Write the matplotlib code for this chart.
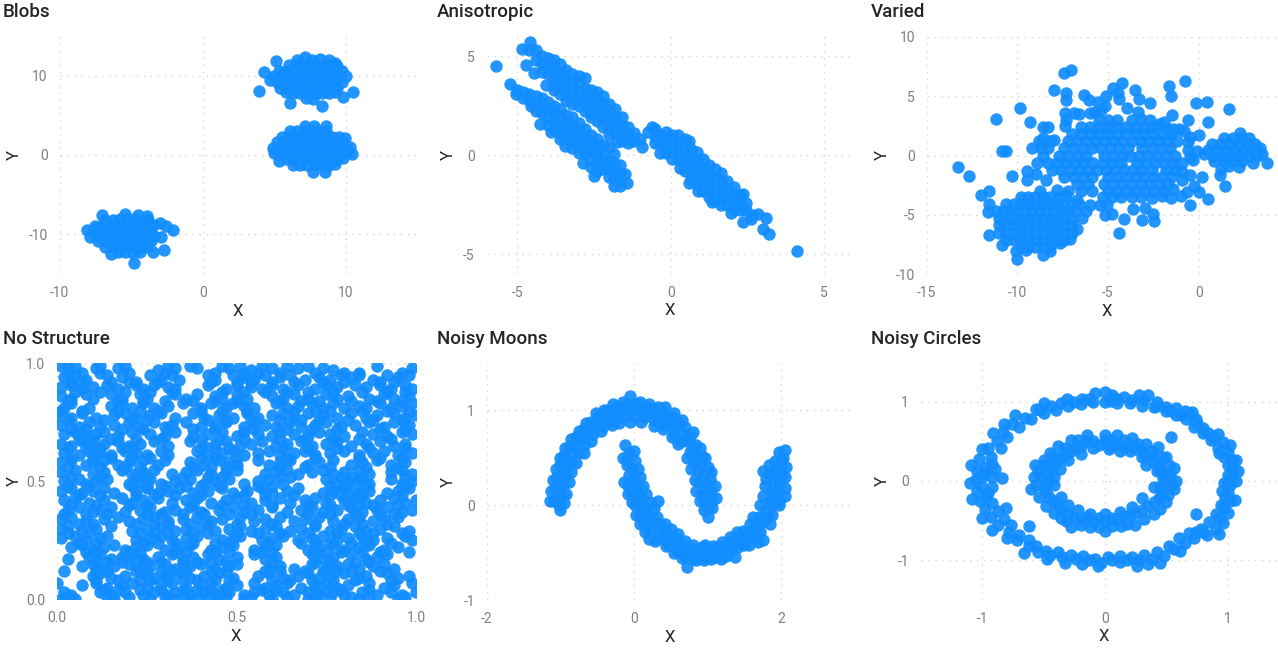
import matplotlib
matplotlib.use("Agg")

import matplotlib.pyplot as plt

BLUE = "#118DFF"
DARK = "#252423"
GREY = "#7F7F7F"
GRID = "#D4D4D4"

W, H = 1278, 648

blobs_pts = [
    (3.9,8.1),(4.3,10.5),(5.1,11.9),(6.1,6.5),(8.3,6.2),(9.8,7.3),(10.5,7.9),(4.7,9.4),(7.1,12.4),
    (6.6,12.0),(7.6,12.0),(8.2,12.1),(8.8,12.0),(9.2,11.6),
    (6.0,11.3),(6.5,11.3),(7.0,11.3),(7.5,11.3),(8.0,11.3),(8.5,11.3),(9.0,11.3),(9.4,11.2),
    (5.3,10.6),(5.8,10.6),(6.3,10.6),(6.8,10.6),(7.3,10.6),(7.8,10.6),(8.3,10.6),(8.8,10.6),(9.3,10.6),(9.7,10.6),
    (5.0,9.9),(5.5,9.9),(6.0,9.9),(6.5,9.9),(7.0,9.9),(7.5,9.9),(8.0,9.9),(8.5,9.9),(9.0,9.9),(9.5,9.9),(10.0,10.0),
    (5.2,9.2),(5.7,9.2),(6.2,9.2),(6.7,9.2),(7.2,9.2),(7.7,9.2),(8.2,9.2),(8.7,9.2),(9.2,9.2),(9.7,9.2),
    (5.4,8.5),(5.9,8.5),(6.4,8.5),(6.9,8.5),(7.4,8.5),(7.9,8.5),(8.4,8.5),(8.9,8.5),(9.4,8.5),
    (5.8,7.9),(6.3,7.8),(6.8,7.8),(7.3,7.8),(7.8,7.8),(8.3,7.8),(8.8,7.8),(9.2,7.9),(7.2,7.2),(7.7,7.1),
    (8.6,3.6),(7.1,3.7),(7.75,3.6),(6.1,3.0),(6.6,3.0),(7.1,3.0),(7.6,3.0),(8.1,3.0),(8.6,3.0),
    (5.5,2.3),(6.0,2.3),(6.5,2.3),(7.0,2.3),(7.5,2.3),(8.0,2.3),(8.5,2.3),(9.0,2.3),(9.5,2.3),(9.9,2.2),
    (5.2,1.6),(5.7,1.6),(6.2,1.6),(6.7,1.6),(7.2,1.6),(7.7,1.6),(8.2,1.6),(8.7,1.6),(9.2,1.6),(9.7,1.6),
    (4.9,0.9),(5.4,0.9),(5.9,0.9),(6.4,0.9),(6.9,0.9),(7.4,0.9),(7.9,0.9),(8.4,0.9),(8.9,0.9),(9.4,0.9),(9.9,0.9),(10.3,1.0),
    (5.0,0.2),(5.5,0.2),(6.0,0.2),(6.5,0.2),(7.0,0.2),(7.5,0.2),(8.0,0.2),(8.5,0.2),(9.0,0.2),(9.5,0.2),(10.0,0.2),(10.4,0.1),
    (5.3,-0.7),(5.8,-0.5),(6.3,-0.5),(6.8,-0.5),(7.3,-0.5),(7.8,-0.5),(8.3,-0.5),(8.8,-0.5),(9.3,-0.5),(9.8,-0.4),
    (6.3,-1.2),(6.8,-1.2),(7.3,-1.2),(7.8,-1.2),(8.3,-1.2),(8.8,-1.2),(9.2,-1.1),(7.7,-2.1),(8.5,-2.1),
    (-7.0,-7.5),(-5.4,-7.4),(-4.5,-7.6),(-3.9,-7.7),
    (-6.8,-8.2),(-6.3,-8.2),(-5.8,-8.1),(-5.3,-8.1),(-4.8,-8.1),(-4.3,-8.2),(-3.8,-8.2),
    (-7.5,-8.9),(-7.0,-8.9),(-6.5,-8.9),(-6.0,-8.9),(-5.5,-8.9),(-5.0,-8.9),(-4.5,-8.9),(-4.0,-8.9),(-3.5,-8.8),(-3.0,-8.6),(-2.6,-8.9),
    (-8.1,-9.5),(-7.6,-9.5),(-7.1,-9.5),(-6.6,-9.5),(-6.1,-9.5),(-5.6,-9.5),(-5.1,-9.5),(-4.6,-9.5),(-4.1,-9.5),(-3.6,-9.5),(-2.1,-9.4),
    (-7.9,-10.3),(-7.4,-10.2),(-6.9,-10.2),(-6.4,-10.2),(-5.9,-10.2),(-5.4,-10.2),(-4.9,-10.2),(-4.4,-10.2),(-3.9,-10.2),(-3.4,-10.2),(-2.9,-10.3),
    (-7.3,-10.9),(-6.8,-10.9),(-6.3,-10.9),(-5.8,-10.9),(-5.3,-10.9),(-4.8,-10.9),(-4.3,-10.9),(-3.6,-10.9),
    (-6.8,-11.6),(-6.3,-11.6),(-5.8,-11.6),(-5.3,-11.6),(-4.8,-11.6),(-4.3,-11.6),(-3.8,-11.6),
    (-6.4,-12.5),(-5.9,-12.2),(-5.4,-12.2),(-4.9,-12.3),(-4.4,-12.2),(-3.5,-12.2),(-2.7,-12.0),(-4.8,-13.6),
]

aniso_pts = [
    (-5.7,4.5),(-4.7,4.55),(-4.85,5.34),(-4.58,5.72),(-4.6,5.3),
    (-4.4,5.3),(-4.4,4.8),(-4.45,4.15),(-4.2,5.0),(-4.2,4.6),(-4.2,4.2),
    (-4.0,4.9),(-4.0,4.5),(-4.0,4.1),(-4.05,3.55),(-3.8,4.8),(-3.8,4.4),(-3.8,4.0),(-3.8,3.6),(-3.8,3.3),
    (-3.6,4.6),(-3.6,4.2),(-3.6,3.8),(-3.6,3.4),(-3.6,3.1),(-3.4,4.3),(-3.4,3.9),(-3.4,3.5),(-3.4,3.1),(-3.4,2.8),
    (-3.2,4.1),(-3.2,3.7),(-3.2,3.3),(-3.2,2.9),(-3.2,2.6),(-3.0,4.0),(-3.0,3.6),(-3.0,3.2),(-3.0,2.8),(-3.0,2.45),
    (-2.8,3.9),(-2.8,3.4),(-2.8,3.0),(-2.8,2.6),(-2.8,2.2),(-2.6,3.3),(-2.6,2.9),(-2.6,2.5),(-2.6,2.1),(-2.6,1.9),
    (-2.4,3.2),(-2.4,2.8),(-2.4,2.4),(-2.4,2.0),(-2.4,1.7),(-2.2,3.0),(-2.2,2.6),(-2.2,2.2),(-2.2,1.8),(-2.2,1.4),
    (-2.0,2.6),(-2.0,2.2),(-2.0,1.8),(-2.0,1.4),(-2.0,1.0),(-1.8,2.3),(-1.8,1.9),(-1.8,1.5),(-1.8,1.1),(-1.75,0.65),
    (-1.6,1.9),(-1.6,1.5),(-1.6,1.1),(-1.6,0.7),(-1.4,1.4),(-1.4,1.0),(-1.4,0.6),(-1.2,1.1),(-1.2,0.7),(-1.0,0.8),(-0.95,0.4),
    (-5.25,3.6),(-5.0,3.3),(-5.05,3.1),(-4.8,3.2),(-4.8,2.9),(-4.6,3.1),(-4.6,2.8),(-4.55,2.45),
    (-4.4,3.0),(-4.4,2.6),(-4.4,2.2),(-4.2,2.9),(-4.2,2.5),(-4.2,2.1),(-4.25,1.55),(-4.0,2.7),(-4.0,2.3),(-4.0,1.9),(-4.0,1.5),
    (-3.8,2.5),(-3.8,2.1),(-3.8,1.7),(-3.8,1.3),(-3.9,1.15),(-3.6,2.3),(-3.6,1.9),(-3.6,1.5),(-3.6,1.1),(-3.6,0.8),
    (-3.4,2.0),(-3.4,1.6),(-3.4,1.2),(-3.4,0.8),(-3.45,0.45),(-3.2,1.9),(-3.2,1.5),(-3.2,1.1),(-3.2,0.7),(-3.2,0.35),
    (-3.0,1.6),(-3.0,1.2),(-3.0,0.8),(-3.0,0.4),(-3.0,0.1),(-2.8,1.3),(-2.8,0.9),(-2.8,0.5),(-2.8,0.1),(-2.85,-0.4),
    (-2.6,1.0),(-2.6,0.6),(-2.6,0.2),(-2.6,-0.2),(-2.6,-0.6),(-2.4,0.8),(-2.4,0.4),(-2.4,0.0),(-2.4,-0.4),(-2.4,-0.8),(-2.5,-1.05),
    (-2.2,0.5),(-2.2,0.1),(-2.2,-0.3),(-2.2,-0.7),(-2.0,0.4),(-2.0,-0.3),(-2.0,-0.7),(-2.0,-1.1),
    (-1.85,0.05),(-1.85,-0.4),(-1.85,-0.8),(-1.85,-1.2),(-1.85,-1.55),(-1.65,-0.5),(-1.65,-0.9),(-1.65,-1.3),(-1.65,-1.55),(-1.5,-0.95),(-1.42,-1.4),
    (-0.62,1.4),(-0.73,1.15),(-0.5,1.3),(-0.5,0.9),(-0.5,0.6),(-0.35,1.0),(-0.35,0.6),(-0.35,0.1),
    (-0.15,1.15),(-0.15,0.8),(-0.15,0.4),(-0.15,0.1),(0.05,1.0),(0.05,0.6),(0.05,0.2),(0.05,-0.2),
    (0.25,1.0),(0.25,0.6),(0.25,0.2),(0.25,-0.2),(0.3,-0.65),(0.45,0.8),(0.45,0.4),(0.45,0.0),(0.45,-0.4),(0.45,-0.8),
    (0.6,0.7),(0.65,0.3),(0.65,0.0),(0.65,-0.4),(0.65,-0.8),(0.65,-1.2),(0.6,-1.4),
    (0.85,0.15),(0.85,-0.25),(0.85,-0.65),(0.85,-1.05),(0.85,-1.45),(0.9,-1.8),(1.05,-0.2),(1.05,-0.6),(1.05,-1.0),(1.05,-1.4),(1.05,-1.8),
    (1.25,-0.5),(1.25,-0.9),(1.25,-1.3),(1.25,-1.7),(1.25,-2.1),(1.33,-2.35),(1.45,-0.7),(1.45,-1.1),(1.45,-1.5),(1.45,-1.9),(1.45,-2.3),
    (1.65,-0.9),(1.65,-1.3),(1.65,-1.7),(1.65,-2.1),(1.65,-2.5),(1.85,-1.3),(1.85,-1.7),(1.85,-2.1),(1.85,-2.5),(1.98,-2.95),
    (2.05,-1.6),(2.05,-2.0),(2.05,-2.4),(2.05,-2.8),(2.25,-2.0),(2.35,-1.95),(2.25,-2.4),(2.25,-2.8),(2.45,-2.4),(2.45,-2.8),(2.36,-3.37),
    (2.6,-3.25),(2.65,-3.05),(2.85,-3.0),(3.1,-3.2),(3.02,-3.75),(3.21,-3.99),(4.12,-4.85),
]

varied_pts = [
    (-13.3,-1.0),(-12.65,-1.7),(-12.0,-3.3),(-11.55,-3.0),(-11.2,3.07),(-10.85,0.4),(-10.65,0.4),(-10.3,-1.7),(-9.85,4.0),(-9.3,2.8),
    (-9.45,-1.3),(-9.45,-2.05),(-8.95,-1.6),(-8.4,-2.1),(-8.0,5.55),(-7.45,7.0),(-7.05,7.2),(-7.3,5.3),(-7.3,4.65),(-6.35,5.1),
    (-6.05,4.65),(-5.55,4.55),(-5.1,5.0),(-4.75,5.7),(-4.2,6.1),(-4.45,5.3),(-4.4,4.8),(-3.5,5.55),(-3.3,4.8),(-2.7,4.4),
    (-1.65,5.9),(-1.55,5.0),(-0.75,6.25),(-0.15,4.4),(0.45,4.5),(1.7,3.9),(0.5,2.8),(-0.6,3.0),(-1.45,3.45),(-3.95,4.0),
    (-5.15,4.15),(-5.4,3.8),(-3.35,3.65),(-7.35,3.6),(-6.9,3.6),(-6.6,3.5),(-6.0,3.6),(-5.7,3.7),(-7.35,2.45),(-7.3,3.0),(-8.6,2.4),(-8.3,2.4),(0.0,1.75),
    (3.75,-0.65),(1.45,-2.55),(1.2,-1.65),(0.5,-3.65),(0.2,-1.85),(0.0,-3.1),(-0.25,-2.55),(-0.5,-1.65),(-0.5,-4.15),(-0.95,-3.4),
    (-0.65,-3.1),(-0.9,-2.05),(-1.55,-3.6),(-2.5,-4.9),(-2.45,-5.5),(-2.95,-4.45),(-3.1,-5.45),(-3.6,-4.55),(-4.1,-5.35),(-4.4,-6.55),
    (-4.8,-4.95),(-5.15,-5.0),(-5.05,-4.15),(-5.45,-4.15),
    (-5.5,3.0),(-5.0,3.0),(-4.5,3.0),(-3.7,3.0),(-3.2,3.1),(-2.7,3.0),(-2.2,2.7),(-1.9,2.8),
    (-6.5,2.4),(-6.0,2.4),(-5.5,2.4),(-5.0,2.4),(-4.5,2.4),(-4.0,2.4),(-3.5,2.4),(-3.0,2.4),(-2.5,2.4),(-1.8,2.3),(-1.4,2.2),(-1.1,2.2),(-0.8,2.1),
    (-7.0,1.8),(-6.5,1.8),(-6.0,1.8),(-5.5,1.8),(-5.0,1.8),(-4.5,1.8),(-4.0,1.8),(-3.5,1.8),(-3.0,1.8),(-2.5,1.8),(-2.0,1.8),(-1.5,1.8),(-0.5,1.6),
    (-8.8,1.2),(-8.2,1.2),(-8.6,1.5),(-8.0,1.3),(-7.2,1.2),(-6.7,1.2),(-6.2,1.2),(-5.7,1.2),(-5.2,1.2),(-4.7,1.2),(-4.2,1.2),(-3.7,1.2),(-3.2,1.2),(-2.7,1.2),(-2.2,1.2),(-1.7,1.2),(-1.2,1.2),(-0.6,1.1),
    (-9.2,0.6),(-8.7,0.6),(-8.3,0.6),(-7.4,0.6),(-6.9,0.6),(-6.4,0.6),(-5.9,0.6),(-5.4,0.6),(-4.9,0.6),(-4.4,0.6),(-3.9,0.6),(-3.1,0.6),(-2.6,0.6),(-2.1,0.6),(-1.6,0.6),(-0.6,0.5),
    (-8.6,0.0),(-7.7,0.0),(-7.2,0.0),(-6.7,0.0),(-6.2,0.0),(-5.2,0.0),(-4.7,0.0),(-4.2,0.0),(-3.8,0.0),(-3.3,0.0),(-2.8,0.0),(-2.3,0.0),(-1.8,0.0),(-1.3,0.0),(-0.5,-0.1),(-0.1,0.4),
    (-8.9,-0.6),(-8.3,-0.6),(-7.8,-0.6),(-7.3,-0.6),(-6.8,-0.6),(-6.3,-0.6),(-5.8,-0.6),(-5.3,-0.6),(-4.8,-0.6),(-4.3,-0.6),(-3.4,-0.6),(-2.9,-0.6),(-2.4,-0.6),(-1.9,-0.6),(-1.4,-0.6),(-0.9,-0.6),(-0.3,-0.4),
    (-8.1,-1.2),(-7.6,-1.2),(-7.1,-1.2),(-6.6,-1.2),(-6.1,-1.2),(-5.6,-1.2),(-5.1,-1.2),(-4.6,-1.2),(-4.1,-1.2),(-3.6,-1.2),(-3.1,-1.2),(-2.6,-1.2),(-1.8,-1.2),(-1.3,-1.2),(-0.9,-1.4),
    (-7.4,-1.8),(-6.9,-1.8),(-6.4,-1.8),(-5.9,-1.8),(-5.0,-1.8),(-4.5,-1.8),(-4.0,-1.8),(-3.5,-1.8),(-3.0,-1.8),(-2.5,-1.8),(-2.0,-1.8),(-1.5,-1.8),
    (-6.7,-2.4),(-6.1,-2.4),(-5.2,-2.4),(-4.7,-2.4),(-4.2,-2.4),(-3.7,-2.4),(-3.2,-2.4),(-2.7,-2.4),(-2.2,-2.4),(-1.7,-2.4),
    (-7.8,-2.9),(-7.2,-3.0),(-6.5,-3.0),(-5.9,-3.0),(-5.0,-3.0),(-4.5,-3.0),(-4.0,-3.0),(-3.5,-3.0),(-3.0,-3.0),(-2.5,-3.0),(-1.9,-3.0),(-1.4,-2.8),
    (-5.3,-3.5),(-4.8,-3.5),(-4.3,-3.5),(-3.7,-3.5),(-3.2,-3.5),(-2.6,-3.6),(-2.0,-3.4),
    (2.3,1.9),(1.4,1.5),(1.9,1.5),(2.4,1.5),(2.8,1.5),(0.75,1.0),(1.2,1.0),(1.7,1.0),(2.2,1.0),(2.7,1.0),(3.1,1.0),
    (0.5,0.5),(1.0,0.5),(1.5,0.5),(2.0,0.5),(2.5,0.5),(3.0,0.5),(3.4,0.6),(0.3,0.1),(0.8,0.0),(1.3,0.0),(1.8,0.0),(2.3,0.0),(2.8,0.0),(3.2,0.0),(3.5,0.1),
    (0.85,-0.5),(1.4,-0.5),(1.9,-0.5),(2.4,-0.5),(3.0,-0.6),(1.7,-0.9),(2.2,-1.0),(1.25,-1.1),
    (-9.8,-3.5),(-9.4,-3.5),(-9.0,-3.5),(-8.6,-3.5),(-8.75,-3.0),(-8.2,-3.5),(-7.7,-3.5),(-7.3,-3.3),(-6.7,-3.75),
    (-11.55,-4.1),(-10.6,-4.1),(-10.2,-4.1),(-9.8,-4.1),(-9.4,-4.1),(-9.0,-4.1),(-8.6,-4.1),(-8.2,-4.1),(-7.8,-4.1),(-7.4,-4.1),(-7.0,-4.1),(-6.6,-4.1),(-6.0,-4.15),
    (-11.6,-4.75),(-11.2,-4.7),(-10.8,-4.7),(-10.4,-4.7),(-10.0,-4.7),(-9.6,-4.7),(-9.2,-4.7),(-8.8,-4.7),(-8.4,-4.7),(-8.0,-4.7),(-7.6,-4.7),(-7.2,-4.7),(-6.8,-4.7),(-6.2,-4.7),
    (-11.0,-5.3),(-10.6,-5.3),(-10.2,-5.3),(-9.8,-5.3),(-9.4,-5.3),(-9.0,-5.3),(-8.6,-5.3),(-8.2,-5.3),(-7.8,-5.3),(-7.4,-5.3),(-7.0,-5.3),(-6.45,-5.3),
    (-11.0,-5.9),(-10.6,-5.9),(-10.2,-5.9),(-9.8,-5.9),(-9.4,-5.9),(-9.0,-5.9),(-8.6,-5.9),(-8.2,-5.9),(-7.8,-5.9),(-7.4,-5.9),(-7.0,-5.9),(-6.7,-6.2),
    (-11.55,-6.7),(-11.0,-6.5),(-10.6,-6.5),(-10.2,-6.5),(-9.8,-6.5),(-9.4,-6.5),(-9.0,-6.5),(-8.6,-6.5),(-8.2,-6.5),(-7.8,-6.5),(-7.4,-6.5),(-7.0,-6.5),
    (-10.6,-7.1),(-10.2,-7.1),(-9.8,-7.1),(-9.4,-7.1),(-9.0,-7.1),(-8.6,-7.1),(-8.2,-7.1),(-7.8,-7.1),(-7.4,-7.1),(-7.1,-7.05),
    (-10.85,-7.55),(-9.8,-7.7),(-9.4,-7.7),(-9.0,-7.7),(-8.6,-7.7),(-8.2,-7.7),(-7.65,-7.4),(-10.1,-8.1),(-9.5,-8.0),(-8.2,-8.05),(-8.6,-8.4),(-10.0,-8.75),
]

noise_pts = [
    (.01,.99),(.03,.98),(.05,.99),(.11,.98),(.12,.99),(.17,.98),(.19,.99),(.28,.97),(.31,.99),(.33,.98),(.37,.99),(.39,.98),(.46,.99),(.48,.98),(.51,.99),(.54,.97),(.57,.99),(.60,.98),(.64,.99),(.67,.98),(.70,.99),(.74,.98),(.77,.97),(.89,.99),(.99,.98),
    (.02,.94),(.05,.95),(.08,.93),(.14,.95),(.18,.94),(.20,.92),(.26,.95),(.29,.93),(.32,.95),(.34,.93),(.42,.95),(.44,.93),(.49,.95),(.52,.94),(.55,.93),(.58,.95),(.62,.94),(.65,.95),(.69,.93),(.73,.94),(.76,.93),(.79,.95),(.82,.94),(.84,.95),(.88,.93),(.92,.95),(.95,.94),(.98,.95),
    (.01,.90),(.04,.91),(.07,.89),(.10,.90),(.14,.91),(.17,.89),(.22,.91),(.24,.89),(.27,.91),(.31,.90),(.33,.89),(.42,.91),(.47,.89),(.50,.91),(.54,.90),(.57,.89),(.60,.91),(.63,.89),(.67,.91),(.72,.89),(.75,.91),(.78,.90),(.83,.91),(.86,.90),(.90,.91),(.93,.89),(.97,.91),(.99,.89),
    (.01,.86),(.04,.85),(.08,.87),(.10,.85),(.15,.87),(.18,.85),(.23,.87),(.25,.85),(.33,.87),(.36,.85),(.39,.87),(.44,.86),(.46,.85),(.50,.87),(.53,.85),(.60,.86),(.63,.85),(.66,.87),(.70,.85),(.75,.87),(.78,.85),(.81,.86),(.87,.85),(.91,.87),(.94,.85),(.98,.86),
    (.02,.81),(.04,.83),(.09,.81),(.15,.82),(.18,.83),(.21,.81),(.24,.83),(.27,.81),(.31,.82),(.35,.83),(.40,.81),(.43,.83),(.47,.81),(.49,.83),(.52,.82),(.55,.81),(.61,.83),(.64,.81),(.67,.82),(.71,.83),(.74,.81),(.77,.83),(.80,.81),(.84,.82),(.86,.81),(.90,.83),(.93,.81),(.96,.82),(.99,.83),
    (.00,.78),(.04,.77),(.07,.79),(.11,.77),(.16,.78),(.19,.79),(.22,.77),(.26,.78),(.29,.79),(.33,.77),(.38,.79),(.41,.77),(.45,.78),(.49,.77),(.53,.79),(.56,.77),(.60,.78),(.63,.79),(.66,.77),(.70,.79),(.74,.78),(.78,.77),(.82,.79),(.86,.77),(.89,.78),(.94,.79),(.97,.77),(1.0,.78),
    (.01,.74),(.06,.73),(.09,.75),(.12,.73),(.16,.74),(.20,.75),(.23,.73),(.27,.75),(.30,.73),(.32,.74),(.36,.75),(.40,.73),(.44,.74),(.47,.75),(.52,.73),(.55,.75),(.58,.74),(.61,.73),(.65,.75),(.68,.73),(.72,.74),(.75,.75),(.79,.73),(.83,.74),(.87,.75),(.91,.73),(.94,.75),(.98,.74),
    (.02,.70),(.05,.71),(.08,.69),(.11,.70),(.13,.71),(.17,.69),(.21,.71),(.26,.70),(.30,.69),(.33,.71),(.38,.69),(.42,.70),(.46,.71),(.50,.69),(.52,.71),(.56,.70),(.60,.69),(.62,.71),(.66,.70),(.70,.69),(.73,.71),(.76,.70),(.80,.69),(.85,.71),(.88,.70),(.92,.69),(.96,.71),(.99,.70),
    (.01,.66),(.04,.65),(.07,.67),(.10,.65),(.13,.66),(.17,.67),(.20,.65),(.23,.66),(.27,.67),(.31,.65),(.37,.67),(.41,.65),(.44,.66),(.47,.67),(.51,.65),(.54,.66),(.57,.67),(.61,.65),(.64,.66),(.68,.67),(.71,.65),(.75,.66),(.78,.67),(.82,.65),(.86,.66),(.90,.67),(.94,.65),(.97,.66),
    (.02,.62),(.06,.61),(.09,.63),(.12,.62),(.15,.61),(.19,.63),(.22,.62),(.25,.61),(.29,.63),(.31,.61),(.39,.63),(.42,.61),(.46,.62),(.49,.63),(.52,.61),(.56,.62),(.59,.63),(.62,.61),(.66,.62),(.69,.63),(.72,.61),(.76,.62),(.80,.63),(.84,.61),(.88,.62),(.91,.63),(.95,.61),(.99,.62),
    (.01,.58),(.04,.59),(.08,.57),(.10,.58),(.13,.59),(.17,.57),(.20,.58),(.24,.59),(.28,.57),(.30,.59),(.37,.58),(.41,.57),(.45,.59),(.48,.58),(.50,.57),(.56,.59),(.59,.57),(.62,.58),(.65,.59),(.70,.57),(.73,.58),(.77,.59),(.82,.57),(.85,.58),(.89,.59),(.93,.57),(.97,.58),
    (.01,.54),(.05,.55),(.10,.53),(.13,.54),(.18,.55),(.21,.53),(.24,.54),(.27,.55),(.32,.53),(.36,.54),(.39,.55),(.43,.53),(.47,.54),(.50,.55),(.58,.53),(.61,.54),(.64,.55),(.67,.53),(.71,.54),(.74,.55),(.77,.53),(.80,.54),(.84,.55),(.87,.53),(.93,.54),(.96,.55),(.99,.53),
    (.02,.50),(.06,.51),(.08,.49),(.11,.50),(.14,.51),(.20,.49),(.23,.50),(.26,.51),(.29,.49),(.33,.50),(.37,.51),(.41,.49),(.44,.50),(.48,.51),(.52,.49),(.56,.50),(.59,.51),(.63,.49),(.75,.51),(.78,.49),(.81,.50),(.84,.51),(.87,.49),(.93,.51),(.96,.49),(.99,.50),
    (.01,.46),(.04,.47),(.07,.45),(.10,.46),(.13,.47),(.16,.45),(.22,.46),(.25,.47),(.28,.45),(.31,.46),(.34,.47),(.38,.45),(.42,.46),(.46,.47),(.49,.45),(.53,.46),(.57,.47),(.60,.45),(.64,.46),(.67,.47),(.74,.45),(.77,.46),(.80,.47),(.84,.45),(.87,.46),(.92,.45),(.95,.46),(.98,.47),
    (.02,.42),(.05,.43),(.09,.41),(.13,.42),(.18,.43),(.21,.41),(.24,.42),(.28,.43),(.32,.41),(.36,.42),(.39,.43),(.43,.41),(.47,.42),(.50,.43),(.54,.41),(.58,.42),(.62,.43),(.65,.41),(.69,.42),(.72,.43),(.75,.41),(.80,.42),(.83,.43),(.86,.41),(.90,.42),(.94,.43),(.97,.41),(1.0,.42),
    (.03,.38),(.06,.39),(.10,.37),(.12,.38),(.15,.39),(.19,.37),(.23,.38),(.26,.39),(.30,.37),(.33,.38),(.37,.39),(.40,.37),(.45,.38),(.49,.39),(.52,.37),(.56,.38),(.60,.39),(.64,.37),(.68,.38),(.71,.39),(.74,.37),(.78,.38),(.82,.39),(.85,.37),(.89,.38),(.92,.39),(.96,.37),(.99,.38),
    (.01,.34),(.04,.35),(.08,.33),(.13,.34),(.17,.35),(.20,.33),(.24,.34),(.27,.35),(.31,.33),(.35,.34),(.39,.35),(.43,.33),(.46,.34),(.51,.35),(.55,.33),(.58,.34),(.62,.35),(.66,.33),(.69,.34),(.73,.35),(.77,.33),(.81,.34),(.84,.35),(.88,.33),(.91,.34),(.95,.35),
    (.01,.30),(.03,.31),(.07,.29),(.11,.30),(.15,.31),(.21,.29),(.25,.30),(.29,.31),(.33,.29),(.36,.30),(.40,.31),(.44,.29),(.48,.30),(.51,.31),(.54,.29),(.58,.30),(.61,.31),(.65,.29),(.68,.30),(.72,.31),(.76,.29),(.79,.30),(.83,.31),(.86,.29),(.90,.30),(.94,.31),(.98,.29),
    (.01,.26),(.05,.27),(.08,.25),(.12,.26),(.14,.27),(.22,.25),(.26,.26),(.29,.27),(.32,.25),(.36,.26),(.39,.27),(.46,.25),(.49,.26),(.51,.27),(.57,.25),(.60,.26),(.63,.27),(.67,.25),(.71,.26),(.74,.27),(.78,.25),(.81,.26),(.85,.27),(.88,.25),(.92,.26),(.97,.27),(.99,.25),
    (.04,.22),(.07,.23),(.10,.21),(.13,.22),(.16,.23),(.19,.21),(.22,.22),(.25,.23),(.30,.21),(.34,.22),(.37,.23),(.43,.21),(.46,.22),(.49,.23),(.55,.21),(.58,.22),(.61,.23),(.70,.21),(.73,.22),(.77,.23),(.80,.21),(.84,.22),(.87,.23),(.91,.21),(.95,.22),
    (.03,.17),(.09,.18),(.12,.19),(.15,.17),(.18,.18),(.21,.19),(.24,.17),(.28,.18),(.32,.19),(.35,.17),(.38,.18),(.42,.19),(.45,.17),(.50,.18),(.55,.19),(.58,.17),(.61,.18),(.71,.19),(.74,.17),(.77,.18),(.82,.19),(.86,.17),(.89,.18),(.92,.19),(.98,.20),
    (.07,.14),(.10,.15),(.13,.13),(.16,.14),(.20,.15),(.23,.13),(.26,.14),(.30,.15),(.33,.13),(.37,.14),(.40,.15),(.44,.13),(.48,.14),(.50,.15),(.59,.13),(.62,.14),(.66,.13),(.71,.15),(.75,.13),(.78,.14),(.81,.15),(.84,.13),(.88,.14),(.91,.15),(.94,.13),
    (.02,.12),(.10,.10),(.12,.11),(.15,.09),(.19,.10),(.24,.11),(.27,.09),(.30,.10),(.34,.11),(.37,.09),(.41,.10),(.45,.11),(.49,.09),(.56,.10),(.59,.11),(.63,.09),(.67,.10),(.70,.11),(.73,.09),(.76,.10),(.80,.11),(.84,.09),(.86,.10),(.92,.11),(.95,.09),(.98,.10),
    (.00,.07),(.07,.06),(.11,.07),(.14,.05),(.18,.06),(.21,.07),(.25,.05),(.29,.06),(.32,.07),(.36,.05),(.40,.06),(.43,.07),(.47,.05),(.50,.06),(.55,.07),(.58,.05),(.61,.06),(.64,.07),(.68,.05),(.72,.06),(.75,.07),(.78,.05),(.81,.06),(.87,.07),(.91,.05),(.94,.06),(.99,.07),
    (.02,.03),(.04,.02),(.12,.03),(.15,.02),(.19,.03),(.24,.02),(.27,.03),(.31,.02),(.33,.03),(.37,.02),(.41,.03),(.44,.02),(.48,.03),(.52,.02),(.55,.03),(.59,.02),(.63,.03),(.66,.02),(.70,.03),(.73,.02),(.77,.03),(.80,.02),(.85,.03),(.89,.02),(.93,.03),(.96,.02),(1.0,.03),
    (.01,.00),(.03,.01),(.05,.00),(.14,.01),(.16,.00),(.20,.01),(.26,.00),(.30,.01),(.33,.00),(.36,.01),(.39,.00),(.42,.01),(.45,.00),(.47,.01),(.52,.00),(.54,.01),(.60,.00),(.64,.01),(.70,.00),(.72,.01),(.76,.00),(.82,.01),(.84,.00),(.87,.01),(.95,.00),(.97,.01),
]

# denser patches of the same panel, one row of x values per y
noise_fill_y = [.96, .92, .88, .84, .80, .76, .72, .68, .64, .60, .56, .52, .48, .44, .40, .36, .32, .28, .24, .20, .16, .12, .08, .04]
noise_fill_x = [
    [.03,.07,.12,.20,.30,.44,.52,.56,.62,.72,.80,.84,.96],
    [.04,.07,.15,.22,.28,.43,.50,.54,.60,.66,.74,.80,.90,.94],
    [.05,.12,.19,.26,.32,.46,.52,.58,.64,.70,.77,.85,.92,.97],
    [.03,.17,.24,.30,.38,.44,.50,.62,.68,.73,.82,.89,.96],
    [.01,.07,.17,.23,.28,.40,.46,.53,.66,.72,.76,.85,.92,.98],
    [.03,.13,.21,.25,.42,.47,.54,.62,.68,.73,.81,.88,.96],
    [.04,.08,.18,.24,.31,.38,.44,.55,.64,.71,.78,.90,.97],
    [.06,.10,.15,.22,.29,.40,.45,.52,.62,.69,.77,.84,.93],
    [.03,.08,.12,.18,.21,.40,.44,.48,.63,.70,.78,.87,.97],
    [.04,.10,.15,.21,.26,.40,.44,.50,.64,.72,.84,.90,.96],
    [.03,.12,.19,.23,.38,.43,.47,.62,.69,.76,.86,.95],
    [.04,.12,.22,.25,.35,.42,.46,.62,.65,.79,.82,.85,.97],
    [.03,.09,.21,.25,.30,.36,.40,.45,.56,.60,.76,.80,.83,.86,.97],
    [.06,.12,.22,.27,.33,.40,.52,.58,.66,.76,.79,.82,.85,.96],
    [.04,.11,.20,.25,.38,.46,.52,.60,.70,.76,.81,.84,.88,.95],
    [.02,.08,.14,.25,.29,.35,.41,.48,.54,.70,.76,.83,.90,.94],
    [.06,.10,.22,.27,.31,.37,.42,.50,.60,.72,.80,.85,.92],
    [.03,.09,.23,.27,.31,.38,.42,.50,.56,.62,.70,.78,.84,.88,.96],
    [.06,.11,.24,.28,.33,.38,.44,.48,.59,.68,.72,.76,.82,.86,.93],
    [.08,.11,.20,.23,.33,.36,.44,.48,.57,.60,.72,.75,.79,.85,.90],
    [.11,.14,.18,.22,.25,.29,.35,.39,.43,.47,.60,.72,.76,.83,.87],
    [.11,.14,.22,.25,.29,.32,.36,.43,.47,.58,.62,.69,.74,.78,.82,.90],
    [.11,.17,.23,.26,.31,.35,.39,.44,.48,.60,.65,.71,.77,.83,.93],
    [.13,.17,.23,.29,.35,.39,.43,.46,.57,.61,.72,.75,.79,.87],
]

for fill_y, fill_row in zip(noise_fill_y, noise_fill_x):
    noise_pts += [(x, fill_y) for x in fill_row]

moons_pts = [
    (-1.02,0.0),(-1.03,0.1),(-1.0,0.2),(-0.98,0.3),(-0.95,0.38),(-0.9,0.45),(-0.85,0.53),(-0.78,0.62),(-0.7,0.7),(-0.62,0.78),(-0.52,0.85),(-0.42,0.9),(-0.32,0.95),(-0.22,0.97),(-0.12,0.99),(-0.02,1.0),(0.08,1.0),(0.18,0.98),(0.28,0.96),(0.38,0.92),(0.48,0.87),(0.56,0.83),(0.65,0.76),(0.72,0.68),(0.8,0.6),(0.85,0.52),(0.9,0.43),(0.95,0.33),(0.97,0.24),(0.99,0.14),(1.0,0.05),(1.0,-0.03),
    (-1.14,0.04),(-1.12,0.15),(-1.1,0.27),(-1.06,0.38),(-1.0,0.5),(-0.93,0.6),(-0.85,0.7),(-0.75,0.78),(-0.65,0.87),(-0.52,0.97),(-0.4,1.0),(-0.28,1.07),(-0.15,1.09),(-0.05,1.15),(0.08,1.09),(0.2,1.07),(0.33,1.03),(0.42,1.03),(0.55,0.97),(0.66,0.9),(0.8,0.77),(0.9,0.6),(0.97,0.5),(1.05,0.35),(1.1,0.2),(1.12,0.08),
    (-0.95,0.02),(-0.92,0.12),(-0.88,0.24),(-0.85,0.35),(-0.78,0.45),(-0.68,0.55),(-0.58,0.68),(-0.45,0.78),(-0.3,0.85),(-0.2,0.87),(-0.05,0.88),(0.1,0.88),(0.27,0.83),(0.4,0.8),(0.52,0.72),(0.6,0.65),(0.72,0.5),(0.78,0.38),(0.83,0.27),(0.85,0.15),(0.9,0.05),(0.95,-0.05),(1.0,-0.12),(1.06,-0.03),(-1.01,-0.05),
    (-1.08,0.05),(-1.07,0.18),(-1.04,0.3),(-1.0,0.42),(-0.95,0.53),(-0.87,0.62),(-0.78,0.72),(-0.68,0.8),(-0.58,0.88),(-0.47,0.94),(-0.35,1.0),(-0.22,1.04),(-0.1,1.06),(0.02,1.07),(0.14,1.05),(0.26,1.02),(0.38,0.98),(0.5,0.93),(0.6,0.88),(0.7,0.82),(0.76,0.72),(0.85,0.63),(0.92,0.52),(1.0,0.4),(1.03,0.28),(1.05,0.15),(1.06,0.05),
    (-0.98,0.1),(-0.95,0.22),(-0.92,0.33),(-0.85,0.44),(-0.76,0.55),(-0.66,0.65),(-0.55,0.75),(-0.42,0.83),(-0.3,0.9),(-0.15,0.93),(0.0,0.94),(0.15,0.93),(0.28,0.89),(0.42,0.85),(0.55,0.76),(0.65,0.68),(0.76,0.56),(0.82,0.46),(0.87,0.36),(0.9,0.24),(0.93,0.12),(0.97,0.02),
    (-0.12,0.63),(0.0,0.57),(0.02,0.47),(0.05,0.38),(0.08,0.3),(0.12,0.2),(0.16,0.12),(0.22,0.03),(0.27,-0.03),(0.32,-0.12),(0.42,-0.2),(0.5,-0.25),(0.6,-0.3),(0.7,-0.38),(0.8,-0.42),(0.92,-0.44),(0.97,-0.42),(1.08,-0.43),(1.2,-0.39),(1.3,-0.33),(1.4,-0.28),(1.48,-0.27),(1.58,-0.2),(1.62,-0.12),(1.7,-0.12),(1.72,0.0),(1.76,0.1),(1.78,0.2),(1.8,0.28),(1.75,0.36),(1.84,0.42),(1.92,0.47),(1.97,0.56),(2.05,0.58),(0.33,0.05),
    (-0.1,0.42),(-0.06,0.32),(-0.03,0.22),(0.03,0.12),(0.06,0.02),(0.12,-0.06),(0.18,-0.14),(0.28,-0.2),(0.35,-0.27),(0.45,-0.33),(0.55,-0.4),(0.65,-0.45),(0.75,-0.5),(0.85,-0.5),(0.95,-0.5),(1.05,-0.5),(1.15,-0.5),(1.25,-0.45),(1.35,-0.42),(1.45,-0.38),(1.55,-0.33),(1.65,-0.25),(1.75,-0.18),(1.8,-0.05),(1.85,0.05),(1.87,0.15),(1.9,0.25),(1.92,0.35),(2.0,0.4),(2.0,0.48),(1.95,0.1),(1.97,0.0),
    (-0.15,0.5),(-0.13,0.25),(-0.08,0.12),(-0.03,0.03),(0.03,-0.1),(0.08,-0.2),(0.15,-0.28),(0.2,-0.35),(0.29,-0.38),(0.43,-0.43),(0.55,-0.5),(0.65,-0.55),(0.72,-0.65),(0.85,-0.58),(0.95,-0.58),(1.05,-0.57),(1.18,-0.56),(1.25,-0.53),(1.37,-0.54),(1.5,-0.42),(1.57,-0.42),(1.68,-0.39),(1.75,-0.37),(1.85,-0.2),(1.88,-0.1),(1.97,0.05),(2.05,0.1),(2.05,0.18),(2.05,0.3),(2.07,0.4),
    (-0.07,0.55),(-0.09,0.48),(-0.02,0.38),(0.0,0.28),(0.04,0.2),(0.08,0.1),(0.12,0.02),(0.17,-0.06),(0.23,-0.12),(0.36,-0.2),(0.42,-0.27),(0.5,-0.33),(0.6,-0.37),(0.7,-0.44),(0.8,-0.47),(0.9,-0.47),(1.0,-0.46),(1.1,-0.46),(1.2,-0.44),(1.3,-0.39),(1.4,-0.34),(1.5,-0.31),(1.6,-0.27),(1.7,-0.2),(1.78,-0.12),
    (-0.08,0.2),(-0.02,0.12),(0.01,0.0),(0.08,-0.12),(0.14,-0.2),(0.22,-0.27),(0.35,-0.34),(0.48,-0.42),(0.6,-0.48),(0.7,-0.53),(0.8,-0.55),(0.9,-0.55),(1.0,-0.54),(1.1,-0.54),(1.2,-0.52),(1.3,-0.48),(1.42,-0.44),(1.52,-0.38),(1.62,-0.33),(1.72,-0.28),(1.82,-0.12),(1.87,0.0),(1.92,0.12),(1.97,0.22),(2.0,0.32),(1.85,0.33),(1.97,0.33),(2.03,0.5),(1.9,0.05),
]

circles_pts = [
    (0.0,1.12),(0.06,1.09),(0.15,1.06),(0.28,1.08),(0.35,1.08),(0.42,1.0),(0.5,0.94),(0.58,0.92),(0.65,0.88),(0.71,0.87),(0.75,0.73),(0.84,0.61),(0.92,0.59),(1.02,0.45),(1.07,0.27),(1.08,0.12),(1.07,0.0),(1.06,-0.24),(1.0,-0.41),(0.96,-0.53),(0.93,-0.67),(0.83,-0.68),(0.72,-0.72),(0.61,-0.89),(0.45,-1.03),(0.35,-1.05),(0.26,-1.07),(0.12,-1.02),(-0.06,-1.07),(-0.19,-1.05),(-0.33,-1.03),(-0.47,-0.98),(-0.66,-0.91),(-0.8,-0.72),(-0.92,-0.62),(-1.0,-0.47),(-1.08,-0.23),(-1.1,-0.02),(-1.09,0.2),(-1.0,0.41),(-0.91,0.61),(-0.82,0.72),(-0.73,0.83),(-0.56,0.91),(-0.5,0.99),(-0.31,1.04),(-0.19,1.04),(-0.08,1.11),
    (0.0,1.0),(0.1,0.98),(0.2,0.98),(0.3,0.95),(0.4,0.93),(0.5,0.88),(0.58,0.83),(0.66,0.78),(0.72,0.68),(0.8,0.6),(0.86,0.52),(0.92,0.42),(0.97,0.3),(1.0,0.2),(1.0,0.08),(0.97,-0.03),(0.95,-0.12),(0.98,-0.2),(0.94,-0.3),(0.9,-0.42),(0.85,-0.52),(0.78,-0.6),(0.68,-0.66),(0.6,-0.72),(0.52,-0.82),(0.42,-0.9),(0.32,-0.94),(0.22,-0.96),(0.12,-0.95),(0.02,-0.96),(-0.08,-0.98),(-0.18,-0.95),(-0.28,-0.93),(-0.38,-0.9),(-0.48,-0.88),(-0.56,-0.82),(-0.62,-0.74),(-0.7,-0.68),(-0.77,-0.55),(-0.82,-0.48),(-0.87,-0.38),(-0.92,-0.28),(-0.95,-0.15),(-1.0,-0.08),(-1.0,0.05),(-0.98,0.18),(-0.93,0.3),(-0.85,0.42),(-0.8,0.56),(-0.7,0.68),(-0.6,0.78),(-0.5,0.86),(-0.4,0.9),(-0.3,0.95),(-0.2,0.97),(-0.1,1.0),
    (-0.92,0.05),(-0.92,-0.08),(-0.9,0.15),(-0.84,0.04),(0.54,0.56),(0.74,-0.42),(-0.62,-0.57),(-0.81,-0.34),
    (0.03,1.05),(0.1,1.03),(0.22,1.02),(0.32,1.02),(0.42,0.95),(0.54,0.88),(0.62,0.83),(0.68,0.84),(0.74,0.78),(0.8,0.67),(0.88,0.56),(0.96,0.49),(1.0,0.37),(1.03,0.27),(1.04,0.16),(1.03,0.05),(1.02,-0.05),(1.0,-0.14),(1.02,-0.25),(0.97,-0.34),(0.93,-0.47),(0.9,-0.6),(0.8,-0.64),(0.74,-0.64),(0.65,-0.78),(0.56,-0.86),(0.48,-0.95),(0.38,-0.98),(0.28,-1.0),(0.18,-1.0),(0.06,-1.0),(-0.03,-1.03),(-0.13,-1.0),(-0.24,-0.99),(-0.35,-0.96),(-0.45,-0.93),(-0.55,-0.9),(-0.62,-0.82),(-0.72,-0.74),(-0.78,-0.64),(-0.87,-0.55),(-0.93,-0.45),(-0.98,-0.35),(-1.02,-0.25),(-1.04,-0.12),(-1.05,0.02),(-1.04,0.12),(-1.03,0.28),(-0.95,0.42),(-0.88,0.5),(-0.83,0.62),(-0.76,0.72),(-0.65,0.8),(-0.53,0.9),(-0.44,0.95),(-0.36,0.98),(-0.25,1.0),(-0.13,1.04),
    (0.05,1.01),(-0.97,-0.2),(-0.98,0.1),(-0.92,0.22),(1.0,0.0),(0.93,0.35),
    (-0.15,0.58),(0.0,0.58),(0.1,0.58),(0.22,0.54),(0.33,0.47),(0.43,0.43),(0.5,0.3),(0.56,0.16),(0.58,0.0),(0.56,-0.1),(0.5,-0.27),(0.4,-0.42),(0.24,-0.55),(0.13,-0.57),(0.0,-0.63),(-0.12,-0.58),(-0.28,-0.58),(-0.36,-0.47),(-0.48,-0.32),(-0.6,-0.1),(-0.58,0.05),(-0.57,0.2),(-0.5,0.26),(-0.45,0.35),(-0.38,0.44),(-0.28,0.52),
    (-0.1,0.5),(0.0,0.5),(0.1,0.47),(0.2,0.45),(0.3,0.38),(0.38,0.3),(0.44,0.2),(0.48,0.08),(0.5,-0.04),(0.46,-0.16),(0.4,-0.27),(0.3,-0.36),(0.2,-0.43),(0.1,-0.48),(0.0,-0.5),(-0.1,-0.5),(-0.2,-0.48),(-0.3,-0.42),(-0.38,-0.3),(-0.46,-0.2),(-0.5,-0.08),(-0.52,0.05),(-0.48,0.15),(-0.42,0.23),(-0.35,0.3),(-0.28,0.38),(-0.2,0.44),
    (-0.1,0.42),(0.03,0.4),(0.12,0.38),(0.2,0.38),(0.3,0.3),(0.33,0.2),(0.42,0.12),(0.47,0.03),(0.4,-0.08),(0.3,-0.22),(0.22,-0.33),(0.12,-0.39),(0.0,-0.42),(-0.12,-0.42),(-0.22,-0.37),(-0.3,-0.3),(-0.36,-0.2),(-0.42,-0.05),(-0.42,0.05),(-0.37,0.15),(-0.3,0.27),(-0.2,0.34),
    (-0.05,0.46),(0.05,0.44),(0.15,0.43),(0.25,0.4),(0.33,0.33),(0.4,0.24),(0.45,0.14),(0.52,0.02),(0.45,-0.08),(0.44,-0.22),(0.35,-0.32),(0.25,-0.4),(0.15,-0.44),(0.05,-0.47),(-0.05,-0.47),(-0.15,-0.46),(-0.25,-0.45),(-0.35,-0.36),(-0.42,-0.25),(-0.48,-0.14),(-0.47,-0.02),(-0.47,0.08),(-0.44,0.16),(-0.38,0.27),(-0.32,0.34),(-0.24,0.42),
    (-0.15,0.5),(0.05,0.52),(0.15,0.52),(0.27,0.47),(0.38,0.38),(0.46,0.3),(0.52,0.2),(0.53,0.08),(0.54,-0.05),(0.51,-0.18),(0.45,-0.35),(0.32,-0.48),(0.18,-0.54),(0.06,-0.57),(-0.05,-0.58),(-0.2,-0.55),(-0.32,-0.5),(-0.42,-0.4),(-0.54,-0.2),(-0.56,-0.05),(-0.55,0.12),(-0.5,0.2),(-0.42,0.3),(-0.33,0.42),(-0.22,0.52),
]

# title, points, xlim, ylim, xticks, yticks, tick labels, axes box in px (left, right, top, bottom), label positions in px
panels = [
    ("Blobs", blobs_pts, (-10, 15), (-15, 15), [-10, 0, 10], [-10, 0, 10], None, (59.5, 417.7, 36, 274), 3, 12, 14, 238),
    ("Anisotropic", aniso_pts, (-6, 6), (-6, 6), [-5, 0, 5], [-5, 0, 5], None, (486.5, 854.9, 36.2, 273.8), 437, 12, 448, 670),
    ("Varied", varied_pts, (-15, 4.3), (-10, 10), [-15, -10, -5, 0], [-10, -5, 0, 5, 10], None, (926.7, 1276.6, 37, 274), 871, 12, 882, 1107),
    ("No Structure", noise_pts, (0, 1), (0, 1), [0, 0.5, 1], [0, 0.5, 1], ["0.0", "0.5", "1.0"], (57, 416, 363.3, 599.3), 3, 339, 14, 236),
    ("Noisy Moons", moons_pts, (-2, 3), (-1, 1.5), [-2, 0, 2], [-1, 0, 1], None, (486.7, 854.7, 362.8, 600.3), 437, 339, 448, 670),
    ("Noisy Circles", circles_pts, (-1.5, 1.4), (-1.5, 1.5), [-1, 0, 1], [-1, 0, 1], None, (920.9, 1277, 362.2, 599.8), 871, 339, 882, 1104),
]

plt.rcParams["font.family"] = ["Roboto", "DejaVu Sans"]
plt.rcParams["axes.unicode_minus"] = False

fig = plt.figure(figsize=(W / 100, H / 100), dpi=100, facecolor="white")

for title, pts, xlim, ylim, xticks, yticks, labels, box, tx, ty, yl_x, xl_x in panels:
    left, right, top, bottom = box
    ax = fig.add_axes([left / W, 1 - bottom / H, (right - left) / W, (bottom - top) / H])

    xs = [p[0] for p in pts]
    ys = [p[1] for p in pts]
    ax.scatter(xs, ys, s=80, color=BLUE, alpha=0.93, linewidths=0, zorder=3)

    ax.set_xlim(*xlim)
    ax.set_ylim(*ylim)
    ax.set_xticks(xticks)
    ax.set_yticks(yticks)
    if labels:
        ax.set_xticklabels(labels)
        ax.set_yticklabels(labels)

    ax.grid(True, color=GRID, linewidth=1, linestyle=(0, (1, 4)), zorder=0)
    ax.set_axisbelow(True)
    for side in ax.spines.values():
        side.set_visible(False)
    ax.tick_params(length=0, labelsize=10, labelcolor=GREY, pad=8.5)

    mid_y = (top + bottom) / 2
    fig.text(tx / W, 1 - ty / H, title, fontsize=13.5, color=DARK, fontweight="medium", ha="left", va="center")
    fig.text(xl_x / W, 1 - (bottom + 37) / H, "X", fontsize=12, color=DARK, ha="center", va="center")
    fig.text(yl_x / W, 1 - mid_y / H, "Y", fontsize=12, color=DARK, rotation=90, ha="center", va="center")

fig.savefig("out.png", dpi=100)
